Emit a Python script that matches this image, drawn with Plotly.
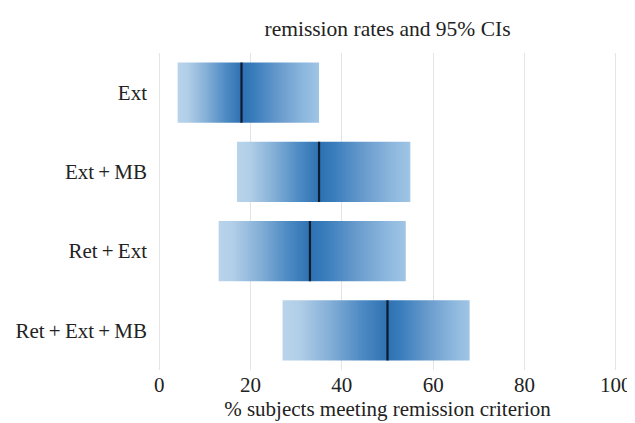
import plotly.graph_objects as go

categories = ["Ext", "Ext\u2009+\u2009MB", "Ret\u2009+\u2009Ext", "Ret\u2009+\u2009Ext\u2009+\u2009MB"]
ci_low = [4, 17, 13, 27]
estimate = [18, 35, 33, 50]
ci_high = [35, 55, 54, 68]
x_ticks = [0, 20, 40, 60, 80, 100]

FONT = "Liberation Serif, Times New Roman, serif"
half = 0.38

left_scale = [[0, "rgb(184,211,234)"], [0.15, "rgb(178,207,232)"], [0.45, "rgb(132,175,215)"],
              [0.75, "rgb(78,139,196)"], [1, "rgb(46,113,178)"]]
right_scale = [[0, "rgb(46,113,178)"], [0.15, "rgb(56,124,188)"], [0.5, "rgb(106,156,205)"],
               [0.8, "rgb(140,183,222)"], [1, "rgb(160,197,228)"]]

fig = go.Figure()
for i, cat in enumerate(categories):
    lo, est, hi = ci_low[i], estimate[i], ci_high[i]
    y0, y1 = i - half, i + half
    fig.add_trace(go.Scatter(
        x=[lo, est, est, lo, lo], y=[y0, y0, y1, y1, y0], mode="lines",
        line=dict(width=0), fill="toself", hoverinfo="skip", showlegend=False,
        fillgradient=dict(type="horizontal", colorscale=left_scale, start=lo, stop=est)))
    fig.add_trace(go.Scatter(
        x=[est, hi, hi, est, est], y=[y0, y0, y1, y1, y0], mode="lines",
        line=dict(width=0), fill="toself", hoverinfo="skip", showlegend=False,
        fillgradient=dict(type="horizontal", colorscale=right_scale, start=est, stop=hi)))
    fig.add_trace(go.Scatter(
        x=[est, est], y=[y0, y1], mode="lines",
        line=dict(color="rgb(15,28,45)", width=2.2), hoverinfo="skip", showlegend=False))

W, H = 627, 415
fig.update_layout(
    width=W, height=H,
    margin=dict(l=150, r=18, t=45, b=53, autoexpand=False),
    paper_bgcolor="white", plot_bgcolor="white",
    font=dict(family=FONT, size=21, color="#222222"),
    title=dict(text="remission rates and 95% CIs", x=(150 + 609) / 2 / W, xanchor="center",
               y=1 - 20 / H, yanchor="middle", yref="container",
               font=dict(family=FONT, size=21.5, color="#222222")),
    xaxis=dict(range=[-0.3, 100.3], tickvals=x_ticks, ticktext=[str(v) for v in x_ticks],
               showgrid=True, gridcolor="#e4e4e4", gridwidth=1, zeroline=False,
               showline=False, ticks="", automargin=False,
               title=dict(text="% subjects meeting remission criterion", standoff=0,
                          font=dict(family=FONT, size=21, color="#222222"))),
    yaxis=dict(range=[3.5, -0.5], tickvals=list(range(len(categories))), ticktext=categories,
               showgrid=False, zeroline=False, showline=False, ticks="", automargin=False,
               ticklabelstandoff=10),
)

fig.write_html("out.html")
